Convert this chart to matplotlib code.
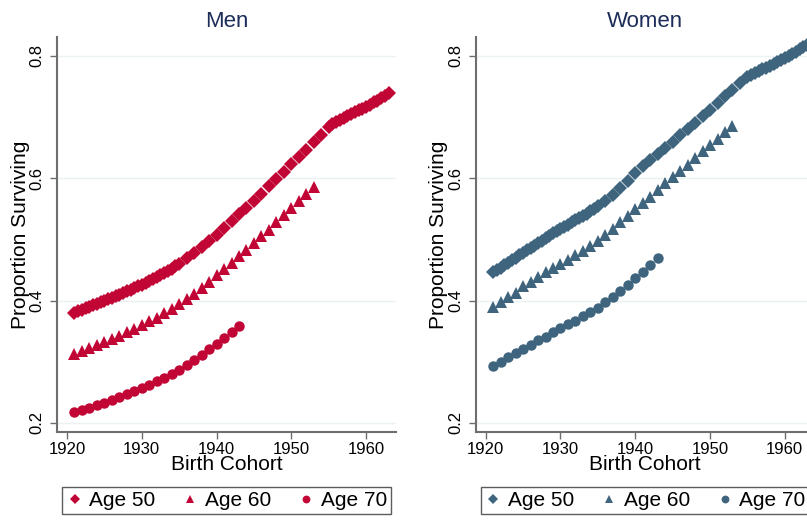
import numpy as np
import matplotlib.pyplot as plt

plt.rcParams['font.family'] = ['Liberation Sans', 'DejaVu Sans']

# birth cohorts
years_50 = [1921, 1921.5, 1922, 1922.5, 1923, 1923.5, 1924, 1924.5, 1925, 1925.5,
            1926, 1926.5, 1927, 1927.5, 1928, 1928.5, 1929, 1929.5, 1930, 1930.5,
            1931, 1931.5, 1932, 1932.5, 1933, 1933.5, 1934, 1934.5, 1935,
            1936, 1937, 1938, 1939, 1940, 1941, 1942, 1943, 1944, 1945, 1946,
            1947, 1948, 1949, 1950, 1951, 1952, 1953, 1954, 1955, 1955.5,
            1956, 1956.5, 1957, 1957.5, 1958, 1958.5, 1959, 1959.5, 1960, 1960.5,
            1961, 1961.5, 1962, 1962.5, 1963]
years_60 = list(range(1921, 1954))
years_70 = list(range(1921, 1944))

men_50 = [0.380, 0.383, 0.385, 0.388, 0.390, 0.392, 0.394, 0.397, 0.399, 0.402,
          0.404, 0.407, 0.409, 0.412, 0.415, 0.418, 0.420, 0.423, 0.426, 0.429,
          0.432, 0.435, 0.438, 0.441, 0.445, 0.448, 0.452, 0.456, 0.460,
          0.469, 0.478, 0.488, 0.498, 0.508, 0.519, 0.530, 0.541, 0.552, 0.563, 0.575,
          0.587, 0.599, 0.611, 0.623, 0.635, 0.647, 0.659, 0.671, 0.684, 0.688,
          0.692, 0.696, 0.699, 0.702, 0.705, 0.708, 0.711, 0.714, 0.717, 0.720,
          0.724, 0.727, 0.731, 0.735, 0.739]
men_60 = [0.313, 0.318, 0.322, 0.327, 0.332, 0.337, 0.342, 0.348, 0.354, 0.360,
          0.366, 0.372, 0.379, 0.386, 0.394, 0.402, 0.411, 0.421, 0.431, 0.441,
          0.452, 0.462, 0.473, 0.483, 0.494, 0.505, 0.516, 0.528, 0.540, 0.552,
          0.563, 0.575, 0.586]
men_70 = [0.217, 0.221, 0.225, 0.229, 0.233, 0.237, 0.242, 0.247, 0.252, 0.257,
          0.262, 0.268, 0.274, 0.280, 0.287, 0.294, 0.302, 0.311, 0.320, 0.329,
          0.338, 0.348, 0.358]

women_50 = [0.446, 0.450, 0.454, 0.458, 0.462, 0.466, 0.470, 0.474, 0.478, 0.482,
            0.486, 0.490, 0.494, 0.498, 0.502, 0.506, 0.510, 0.514, 0.517, 0.521,
            0.524, 0.528, 0.531, 0.535, 0.538, 0.542, 0.546, 0.550, 0.554,
            0.563, 0.573, 0.584, 0.596, 0.608, 0.620, 0.630, 0.640, 0.650, 0.660, 0.670,
            0.681, 0.691, 0.702, 0.712, 0.723, 0.734, 0.744, 0.756, 0.766, 0.769,
            0.772, 0.775, 0.778, 0.781, 0.784, 0.787, 0.790, 0.793, 0.797, 0.800,
            0.804, 0.807, 0.811, 0.814, 0.818]
women_60 = [0.389, 0.397, 0.405, 0.413, 0.424, 0.431, 0.439, 0.446, 0.453, 0.460,
            0.467, 0.474, 0.481, 0.489, 0.497, 0.507, 0.517, 0.528, 0.538, 0.549,
            0.559, 0.570, 0.581, 0.592, 0.602, 0.612, 0.622, 0.633, 0.644, 0.655,
            0.665, 0.675, 0.685]
women_70 = [0.293, 0.300, 0.307, 0.314, 0.321, 0.328, 0.335, 0.341, 0.348, 0.355,
            0.361, 0.367, 0.374, 0.381, 0.388, 0.397, 0.406, 0.416, 0.426, 0.437,
            0.447, 0.458, 0.469]

panels = [
    ('Men', '#C10534', men_50, men_60, men_70, 57),
    ('Women', '#3E647E', women_50, women_60, women_70, 475.7),
]

W, H = 807, 523
fig = plt.figure(figsize=(W / 100, H / 100), dpi=100)

for title, color, s50, s60, s70, left_px in panels:
    ax = fig.add_axes([left_px / W, (H - 432) / H, 339 / W, 395 / H])
    ax.plot(years_50, s50, 'D', color=color, ms=7, mew=0, label='Age 50')
    ax.plot(years_60, s60, '^', color=color, ms=8, mew=0, label='Age 60')
    ax.plot(years_70, s70, 'o', color=color, ms=7.5, mew=0, label='Age 70')

    ax.set_xlim(1918.66, 1964.0)
    ax.set_ylim(0.185, 0.831)
    ax.set_xticks([1920, 1930, 1940, 1950, 1960])
    ax.set_yticks([0.2, 0.4, 0.6, 0.8])
    ax.set_yticklabels(['0.2', '0.4', '0.6', '0.8'], rotation=90, va='center')
    ax.grid(axis='y', color='#EAF2F3', lw=1)
    ax.set_axisbelow(True)
    for side in ['top', 'right']:
        ax.spines[side].set_visible(False)
    for side in ['left', 'bottom']:
        ax.spines[side].set_color('#6E6E6E')
        ax.spines[side].set_linewidth(1.5)
    ax.tick_params(colors='#6E6E6E', labelcolor='black', labelsize=12, length=5, width=1)
    ax.tick_params(axis='x', pad=2)
    ax.tick_params(axis='y', pad=4)

    ax.set_title(title, fontsize=16, color='#1C2D5A', pad=7)
    ax.set_xlabel('Birth Cohort', fontsize=15, labelpad=-1)
    ax.set_ylabel('Proportion Surviving', fontsize=15, labelpad=0)

    leg = ax.legend(loc='upper left',
                    bbox_to_anchor=(5 / 339, -88 / 395, 329 / 339, 33 / 395),
                    mode='expand', ncol=3, frameon=True, fancybox=False,
                    edgecolor='#333333', fontsize=15, handletextpad=0.3,
                    borderaxespad=0, handlelength=0.8, borderpad=0.2,
                    columnspacing=1.0, markerscale=0.75)
    leg.get_frame().set_linewidth(1)

fig.savefig('out.png', dpi=100)
